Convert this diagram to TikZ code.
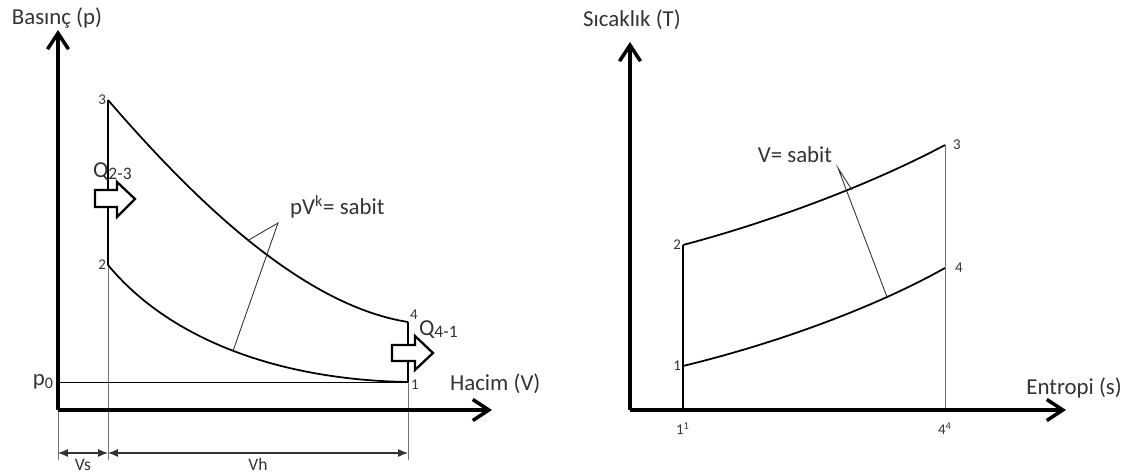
\documentclass[tikz,border=0pt]{standalone}
\usepackage{fontspec}
\setmainfont{Carlito}
\usepackage{tikz}
\usetikzlibrary{arrows.meta,positioning,calc}
\newcommand{\lowsub}[1]{\raisebox{-0.6pt}{\fontsize{10}{10}\selectfont #1}}
\tikzset{
  axis/.style={line width=2pt, draw=black, -{Straight Barb[length=3.2mm, width=4.2mm, line width=2pt]}},
  cycle/.style={line width=1pt, draw=black},
  thin/.style={line width=0.5pt, draw=black!55},
  lead/.style={line width=0.5pt, draw=black!80},
  dim/.style={line width=0.6pt, draw=black!80, {Latex[length=2mm, width=1.6mm]}-{Latex[length=2mm, width=1.6mm]}},
  heat/.style={line width=1.3pt, draw=black, fill=white, line join=miter},
  lbl/.style={font=\fontsize{13}{15}\selectfont, text=black!80, inner sep=1pt},
  pt/.style={font=\fontsize{8.5}{10}\selectfont, text=black!80, inner sep=1pt},
  dimlbl/.style={font=\fontsize{10}{11}\selectfont, text=black!80, inner sep=1pt},
}
\begin{document}
\begin{tikzpicture}[x=0.02cm, y=-0.02cm]
  \useasboundingbox (0,0) rectangle (1134,475);
  % p-V diagram
  \coordinate (o1) at (58,410);
  \coordinate (ya) at (58,30);
  \coordinate (xa) at (492,410);
  \coordinate (p3) at (108,100);
  \coordinate (p2) at (108,265);
  \coordinate (p4) at (408,322);
  \coordinate (p1) at (408,382);
  \coordinate (p0) at (58,382);
  \coordinate (e0) at (58,460);
  \coordinate (e2) at (108,460);
  \coordinate (e1) at (408,460);
  \coordinate (apx) at (278,223);
  \coordinate (up) at (247,241);
  \coordinate (lo) at (233,351);
  \draw[thin] (o1) -- (e0);
  \draw[thin] (p2) -- (e2);
  \draw[thin] (p1) -- (e1);
  \draw[thin, black] (p0) -- (p1);
  \draw[cycle] (p3) .. controls (190,195) and (300,305) .. (p4);
  \draw[cycle] (p2) .. controls (170,340) and (280,380) .. (p1);
  \draw[cycle] (p2) -- (p3);
  \draw[cycle] (p4) -- (p1);
  \draw[lead] (up) -- (apx) -- (lo);
  \draw[axis] (o1) -- (ya);
  \draw[axis] (o1) -- (xa);
  \node[lbl, anchor=south] (pax) at (57,30) {Basınç (p)};
  \node[lbl, anchor=west] (vax) at (448,384) {Hacim (V)};
  \node[lbl, anchor=east] (p0l) at (56,382) {p\textsubscript{0}};
  \node[pt, anchor=east] (n3) at (p3) {3};
  \node[pt, anchor=east] (n2) at (p2) {2};
  \node[pt, anchor=south west] (n4) at (p4) {4};
  \node[pt, anchor=west] (n1) at ($(p1)+(1,3)$) {1};
  \node[lbl, anchor=south west] (kl) at (288,220) {pV\textsuperscript{k}= sabit};
  \draw[heat] (95,190) -- (117,190) -- (117,182) -- (135,199) -- (117,217) -- (117,207) -- (95,207) -- cycle;
  \draw[heat] (392,345) -- (415,345) -- (415,336) -- (433,353) -- (415,370) -- (415,361) -- (392,361) -- cycle;
  \node[lbl, anchor=base west] (q23) at (91,178) {Q\lowsub{2-3}};
  \node[lbl, anchor=base west] (q41) at (417,336) {Q\lowsub{4-1}};
  \draw[dim] (58,453) -- node[dimlbl, below=2pt] (vs) {Vs} (108,453);
  \draw[dim] (108,453) -- node[dimlbl, below=2pt] (vh) {Vh} (408,453);
  % T-s diagram
  \coordinate (o2) at (630,410);
  \coordinate (ta) at (630,42);
  \coordinate (sa) at (1066,410);
  \coordinate (t2) at (683,245);
  \coordinate (t1) at (683,366);
  \coordinate (t3) at (945,145);
  \coordinate (t4) at (945,268);
  \coordinate (s1) at (683,410);
  \coordinate (s4) at (945,410);
  \coordinate (apx2) at (838,168);
  \coordinate (up2) at (852,190);
  \coordinate (lo2) at (887,297);
  \draw[cycle] (t1) -- (s1);
  \draw[thin] (t3) -- (s4);
  \draw[cycle] (t1) -- (t2);
  \draw[cycle] (t2) .. controls (770,222) and (870,185) .. (t3);
  \draw[cycle] (t1) .. controls (770,345) and (870,310) .. (t4);
  \draw[lead] (up2) -- (apx2) -- (lo2);
  \draw[axis] (o2) -- (ta);
  \draw[axis] (o2) -- (sa);
  \node[lbl, anchor=south] (tax) at (632,32) {Sıcaklık (T)};
  \node[lbl, anchor=south east] (sax) at (1124,400) {Entropi (s)};
  \node[pt, anchor=east] (m2) at (t2) {2};
  \node[pt, anchor=east] (m1) at (t1) {1};
  \node[pt, anchor=west] (m3) at ($(t3)+(6,0)$) {3};
  \node[pt, anchor=west] (m4) at ($(t4)+(8,0)$) {4};
  \node[lbl, anchor=south] (vl) at (795,165) {V= sabit};
  \node[pt, below=6pt of s1] (b1) {1\textsuperscript{1}};
  \node[pt, below=6pt of s4] (b4) {4\textsuperscript{4}};
\end{tikzpicture}
\end{document}
